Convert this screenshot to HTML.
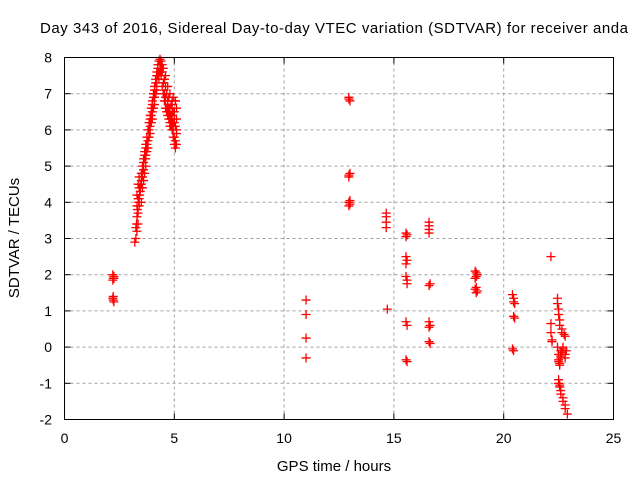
<!DOCTYPE html>
<html><head><meta charset="utf-8"><style>
html,body{margin:0;padding:0;background:#fff;}
svg{display:block;font-family:"Liberation Sans",sans-serif;}
</style></head><body>
<svg id="chart" width="640" height="480">
<rect width="640" height="480" fill="#fff"/>
<text x="334" y="33" font-size="15" text-anchor="middle" textLength="588">Day 343 of 2016, Sidereal Day-to-day VTEC variation (SDTVAR) for receiver anda</text>
<text x="334" y="471" font-size="15" text-anchor="middle">GPS time / hours</text>
<text transform="translate(19,238) rotate(-90)" font-size="15" text-anchor="middle">SDTVAR / TECUs</text>
<g id="grid"></g><g id="ticks"></g><g id="marks"></g>
<rect x="64.5" y="57.5" width="549" height="362" fill="none" stroke="#000" stroke-width="1"/>
</svg>
<script>
const xTicks=[0,5,10,15,20,25];
const yTicks=[-2,-1,0,1,2,3,4,5,6,7,8];
const hours=[3.20,3.25,3.25,3.30,3.30,3.30,3.35,3.40,3.45,3.50,3.50,3.55,3.60,3.60,3.65,3.70,3.70,3.75,3.80,3.80,3.85,3.90,3.90,3.95,4.00,4.00,4.05,4.10,4.10,4.15,4.20,4.20,4.25,4.30,4.30,4.35,4.40,4.40,
3.35,3.40,3.45,3.50,3.55,3.60,3.65,3.70,3.75,3.85,3.95,4.05,4.15,4.25,3.28,3.32,3.38,3.42,
3.30,3.35,3.35,3.40,3.40,3.45,3.50,3.55,3.55,3.60,3.60,3.65,3.65,3.70,3.70,3.75,3.75,3.80,3.85,3.85,3.90,3.90,3.95,3.95,4.00,4.00,4.05,4.05,4.10,4.10,4.15,4.15,4.20,4.20,4.25,4.25,4.30,4.35,4.35,4.40,
4.45,4.50,4.50,4.55,4.60,4.60,4.65,4.70,4.70,4.75,4.80,4.80,4.85,4.90,4.90,4.95,5.00,5.00,5.05,5.05,5.10,4.45,4.55,4.65,4.75,4.85,4.95,5.05,4.50,4.60,4.70,4.80,4.90,5.00,5.10,
4.45,4.50,4.55,4.55,4.60,4.60,4.65,4.65,4.70,4.70,4.75,4.75,4.80,4.80,4.85,4.85,4.90,4.90,4.95,4.95,5.00,5.00,5.05,5.10,5.10,5.05,5.10,4.95,
2.20,2.22,2.25,2.20,2.25,2.20,2.22,2.25,2.22,
11.0,11.0,11.0,11.0,
12.95,12.95,13.0,12.95,13.0,12.95,12.95,13.0,12.95,13.0,
14.65,14.65,14.65,14.65,14.70,
15.55,15.60,15.55,15.55,15.60,15.55,15.55,15.60,15.60,15.55,15.60,15.55,15.60,
16.6,16.6,16.6,16.6,16.65,16.6,16.6,16.65,16.6,16.6,16.65,
18.70,18.75,18.80,18.75,18.70,18.75,18.70,18.80,18.75,
20.40,20.45,20.45,20.50,20.45,20.50,20.40,20.45,
22.15,22.15,22.15,22.20,22.20,
22.45,22.45,22.50,22.50,22.55,22.55,22.65,22.65,22.75,22.80,22.45,22.50,22.50,22.55,22.60,22.60,22.80,22.85,22.80,22.70,22.50,22.55,22.50,22.60,22.70,22.70,22.80,22.80,22.90,
22.50,22.55,22.60,22.65,22.70,22.55,22.60];
const sdtvar=[2.9,3.0,3.3,3.6,3.9,4.2,4.5,4.7,4.3,4.0,4.8,5.0,5.2,4.6,5.4,5.6,5.0,5.8,6.0,5.5,6.2,6.4,5.9,6.6,6.8,6.3,7.0,7.2,6.7,7.4,7.6,7.1,7.8,7.9,7.4,7.95,7.9,7.5,
4.1,4.4,4.5,4.5,4.8,4.9,5.2,5.3,5.5,5.8,6.2,6.6,7.0,7.5,3.4,3.8,4.0,4.2,
3.2,3.4,3.7,3.9,4.1,4.4,4.6,4.7,4.4,4.9,5.1,4.8,5.3,5.2,5.5,5.4,5.6,5.7,5.8,6.0,6.1,6.3,6.2,6.4,6.5,6.7,6.6,6.9,6.9,7.1,7.0,7.3,7.3,7.5,7.5,7.7,7.6,7.8,7.6,7.7,
7.6,7.3,7.7,7.0,6.8,7.5,6.6,6.4,7.2,6.3,6.2,7.0,6.1,6.0,6.8,5.8,5.6,6.5,5.5,6.1,5.9,7.8,7.4,7.0,6.6,6.4,6.2,6.8,7.0,6.9,6.5,6.1,6.6,6.3,6.0,
7.2,7.0,7.4,6.8,7.2,6.6,7.0,6.5,6.8,6.6,6.9,6.5,6.4,6.6,6.7,6.3,6.4,6.2,6.5,6.0,6.2,5.8,5.7,6.3,6.6,6.8,5.6,6.9,
1.85,1.9,1.95,2.0,1.9,1.35,1.3,1.25,1.4,
1.3,0.9,0.25,-0.3,
6.85,6.9,6.8,4.75,4.8,4.7,4.0,3.95,3.9,4.05,
3.7,3.6,3.45,3.3,1.05,
3.15,3.1,3.05,2.5,2.4,2.3,1.95,1.85,1.75,0.7,0.6,-0.35,-0.4,
3.45,3.35,3.25,3.15,1.75,1.7,0.7,0.6,0.55,0.15,0.1,
2.1,2.05,2.0,1.95,1.9,1.65,1.6,1.55,1.5,
1.45,1.35,1.25,1.2,0.85,0.8,-0.05,-0.1,
2.5,0.65,0.4,0.2,0.15,
1.35,1.2,1.05,0.9,0.75,0.6,0.5,0.4,0.35,0.3,0.0,-0.2,-0.4,-0.5,-0.3,-0.1,-0.2,-0.1,-0.3,0.0,-1.0,-1.1,-0.9,-1.2,-1.4,-1.5,-1.6,-1.7,-1.85,
-0.35,-0.45,-0.25,-0.15,-0.05,-1.05,-1.3];
const X0=64.5,X1=613.5,Y0=419.5,Y1=57.5;
const xs=h=>X0+(h-0)/(25-0)*(X1-X0);
const ys=v=>Y0-(v-(-2))/(8-(-2))*(Y0-Y1);
const NS="http://www.w3.org/2000/svg";
const grid=document.getElementById('grid'),ticks=document.getElementById('ticks'),marks=document.getElementById('marks');
function mk(tag,attrs,parent){const e=document.createElementNS(NS,tag);for(const k in attrs)e.setAttribute(k,attrs[k]);parent.appendChild(e);return e;}
xTicks.forEach(t=>{const x=xs(t);
 if(t>0&&t<25){const g=mk('line',{x1:x,x2:x,y1:Y0,y2:Y1,stroke:'#a0a0a0','stroke-dasharray':'3,3'},grid);
 
 }
 mk('line',{x1:x,x2:x,y1:Y0,y2:Y0-6,stroke:'#000'},ticks);mk('line',{x1:x,x2:x,y1:Y1,y2:Y1+6,stroke:'#000'},ticks);
 const l=mk('text',{x:x,y:443,'font-size':14,'text-anchor':'middle'},ticks);l.textContent=t;
 
 });
yTicks.forEach(t=>{const y=ys(t);
 if(t>-2&&t<8){const g=mk('line',{x1:X0,x2:X1,y1:y,y2:y,stroke:'#a0a0a0','stroke-dasharray':'3,3'},grid);
 
 }
 mk('line',{x1:X0,x2:X0+6,y1:y,y2:y,stroke:'#000'},ticks);mk('line',{x1:X1,x2:X1-6,y1:y,y2:y,stroke:'#000'},ticks);
 const l=mk('text',{x:52,y:y+5,'font-size':14,'text-anchor':'end'},ticks);l.textContent=t;
 
 });
hours.forEach((h,i)=>{const x=xs(h),y=ys(sdtvar[i]);
 const p=mk('path',{d:`M${x-4.5},${y}H${x+4.5}M${x},${y-4.5}V${y+4.5}`,stroke:'#ff0000','stroke-width':1.3,fill:'none'},marks);
 
 });
</script>
</body></html>
